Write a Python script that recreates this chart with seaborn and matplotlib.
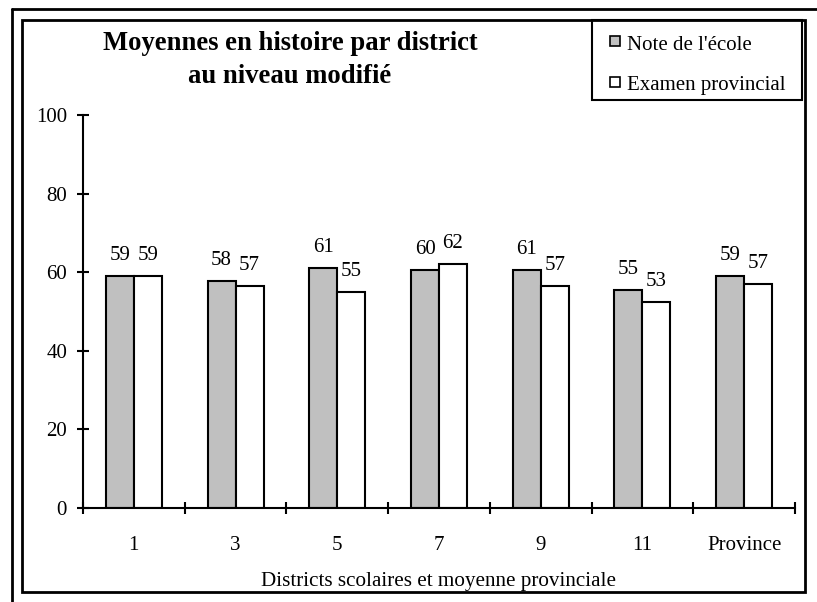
import matplotlib
matplotlib.use("Agg")
import matplotlib.pyplot as plt
from matplotlib.lines import Line2D
from matplotlib.patches import Rectangle
import seaborn as sns
import pandas as pd

# ---- data ----
districts = ["1", "3", "5", "7", "9", "11", "Province"]
series_names = ["Note de l'école", "Examen provincial"]
school_values = [59.0, 57.8, 61.1, 60.5, 60.6, 55.5, 59.0]
exam_values = [59.0, 56.5, 55.0, 62.1, 56.5, 52.4, 57.0]
school_labels = [59, 58, 61, 60, 61, 55, 59]
exam_labels = [59, 57, 55, 62, 57, 53, 57]
y_ticks = [0, 20, 40, 60, 80, 100]
title_lines = ["Moyennes en histoire par district", "au niveau modifié"]
x_label = "Districts scolaires et moyenne provinciale"

sns.set_theme(style="ticks")
plt.rcParams["font.family"] = ["Liberation Serif", "DejaVu Serif"]
plt.rcParams["text.color"] = "black"
plt.rcParams["xtick.color"] = "black"
plt.rcParams["ytick.color"] = "black"

W, H = 817, 602
fig = plt.figure(figsize=(W / 100, H / 100), dpi=100)
fig.patch.set_facecolor("white")


def fx(px):
    return px / W


def fy(py):
    return 1 - py / H


ax = fig.add_axes([fx(83), fy(508), fx(795) - fx(83), fy(115) - fy(508)])
ax.set_facecolor("none")

df = pd.DataFrame({
    "district": districts * 2,
    "value": school_values + exam_values,
    "serie": [series_names[0]] * len(districts) + [series_names[1]] * len(districts),
})
colors = {series_names[0]: "#c0c0c0", series_names[1]: "#ffffff"}

sns.barplot(data=df, x="district", y="value", hue="serie", order=districts,
            hue_order=series_names, palette=colors, saturation=1,
            edgecolor="black", linewidth=1.5, width=0.55, legend=False, ax=ax,
            errorbar=None)

for cont, labs in zip(ax.containers, [school_labels, exam_labels]):
    ax.bar_label(cont, labels=[str(v) for v in labs], padding=8, fontsize=15,
                 color="black")

ax.set_xlim(-0.5, len(districts) - 0.5)
ax.set_ylim(0, 100)
ax.set_yticks(y_ticks)
ax.set_yticklabels([str(t) for t in y_ticks], fontsize=15)
ax.tick_params(axis="y", direction="inout", length=9, width=1.5, pad=7)

ax.set_xticks(range(len(districts)))
ax.set_xticklabels(districts, fontsize=15)
ax.tick_params(axis="x", which="major", length=0, pad=20)
ax.set_xticks([i - 0.5 for i in range(len(districts) + 1)], minor=True)
ax.tick_params(axis="x", which="minor", direction="inout", length=8, width=1.5)

ax.set_xlabel("")
ax.set_ylabel("")
for s in ["top", "right"]:
    ax.spines[s].set_visible(False)
for s in ["left", "bottom"]:
    ax.spines[s].set_linewidth(1.5)
    ax.spines[s].set_color("black")

fig.text(fx(439), fy(586), x_label, ha="center", va="baseline", fontsize=15.2)

# title
fig.text(fx(290), fy(50), title_lines[0], ha="center", va="baseline",
         fontsize=19.2, fontweight="bold")
fig.text(fx(290), fy(83), title_lines[1], ha="center", va="baseline",
         fontsize=19.2, fontweight="bold")

# frames
lw = 2.0
fig.add_artist(Line2D([fx(12), fx(817)], [fy(9), fy(9)], transform=fig.transFigure,
                      color="black", lw=lw))
fig.add_artist(Line2D([fx(12), fx(12)], [fy(9), fy(602)], transform=fig.transFigure,
                      color="black", lw=lw))
fig.add_artist(Rectangle((fx(22), fy(592)), fx(805) - fx(22), fy(20) - fy(592),
                         transform=fig.transFigure, fill=False, edgecolor="black", lw=lw))

# legend
fig.add_artist(Rectangle((fx(592), fy(100)), fx(802) - fx(592), fy(20) - fy(100),
                         transform=fig.transFigure, fill=False, edgecolor="black", lw=1.5))
for name, top, base in [(series_names[0], 36, 50), (series_names[1], 77, 90)]:
    fig.add_artist(Rectangle((fx(610), fy(top + 10)), fx(620) - fx(610), fy(top) - fy(top + 10),
                             transform=fig.transFigure, facecolor=colors[name],
                             edgecolor="black", lw=1.2))
    fig.text(fx(627), fy(base), name, ha="left", va="baseline", fontsize=15)

fig.savefig("out.png", dpi=100, facecolor="white")
